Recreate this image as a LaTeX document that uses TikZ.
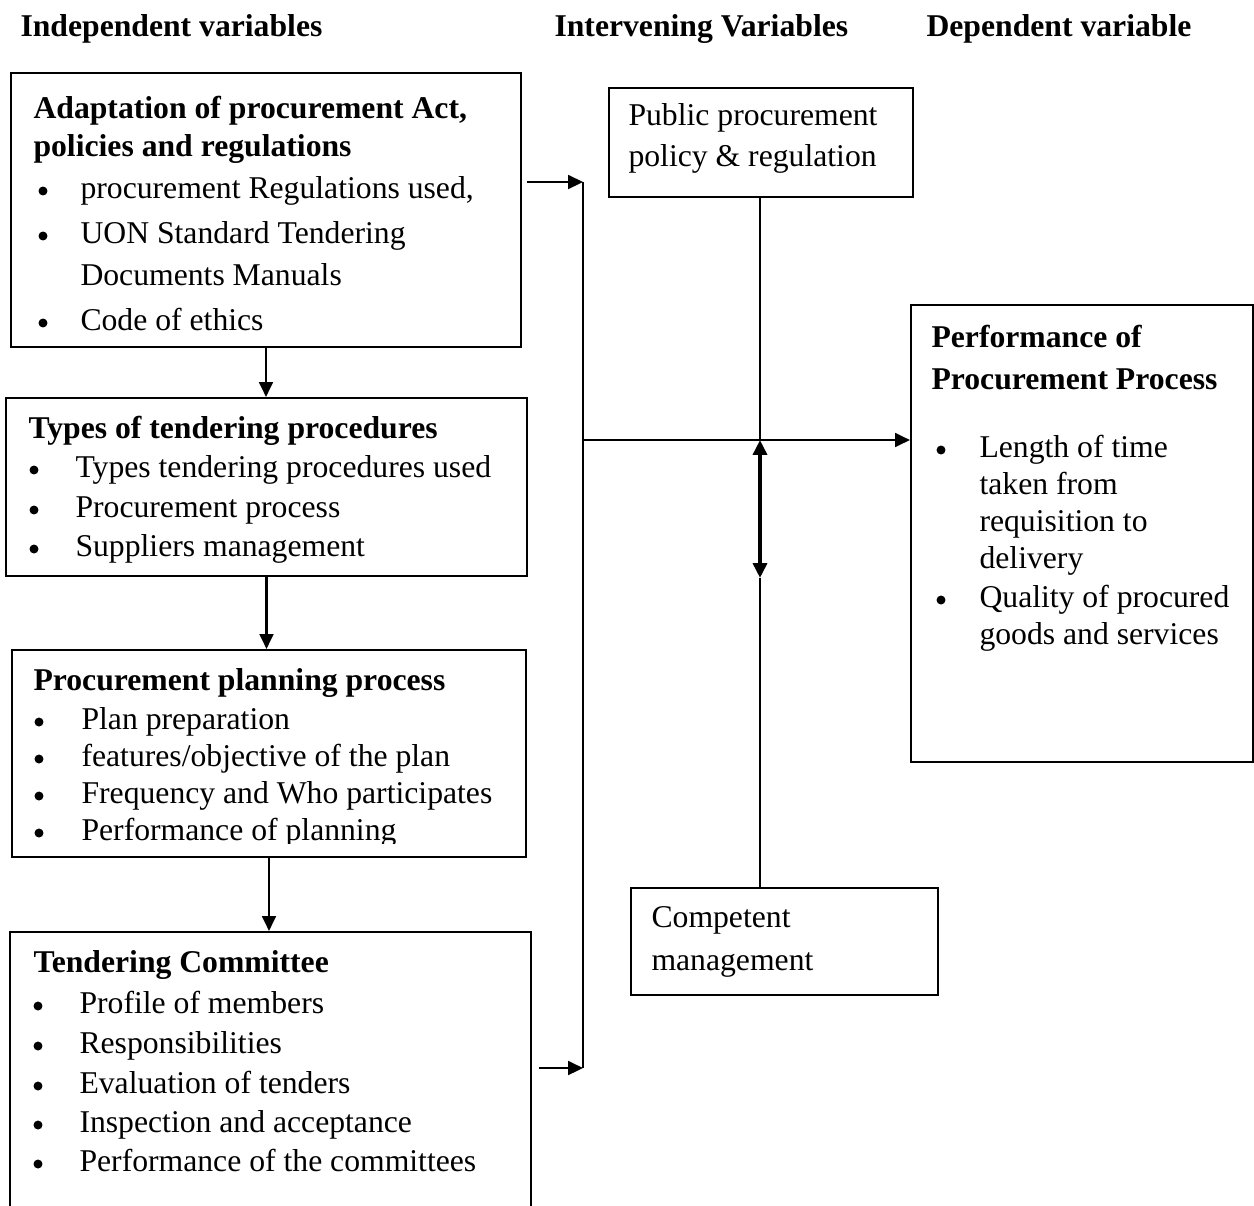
\documentclass[tikz,border=0pt]{standalone}
\usepackage{fontspec}
\setmainfont{Liberation Serif}
\usetikzlibrary{fit,arrows.meta}
\begin{document}
\begin{tikzpicture}[x=0.3788pt,y=-0.3788pt,
  box/.style={draw, line width=0.8pt, inner sep=0pt},
  txt/.style={anchor=base west, inner sep=0pt, font=\fontsize{12}{14}\selectfont},
  hd/.style={anchor=base west, inner sep=0pt, font=\fontsize{12}{14}\selectfont\bfseries},
  bul/.style={circle, fill, inner sep=0pt, minimum size=3.4pt},
  conn/.style={line width=0.9pt},
  arr/.style={line width=0.9pt, -{Triangle[length=5.6pt,width=5.2pt]}},
  dbl/.style={line width=1.6pt, {Triangle[length=5.6pt,width=5.2pt]}-{Triangle[length=5.6pt,width=5.2pt]}}]
\useasboundingbox (0,0) rectangle (1254,1205);

% headers
\node[hd] (h1) at (20,36) {Independent variables};
\node[hd] (h2) at (554,36) {Intervening Variables};
\node[hd] (h3) at (926,36) {Dependent variable};

% boxes
\node[box, fit={(11,73) (521,347)}] (b1) {};
\node[box, fit={(6,398) (527,576)}] (b2) {};
\node[box, fit={(12,650) (526,857)}] (b3) {};
\node[box, fit={(10,932) (531,1230)}] (b4) {};
\node[box, fit={(609,88) (913,197)}] (pub) {};
\node[box, fit={(631,888) (938,995)}] (comp) {};
\node[box, fit={(911,305) (1253,762)}] (perf) {};

% box 1
\node[hd] (a1) at (33,118) {Adaptation of procurement Act,};
\node[hd] (a2) at (33,156) {policies and regulations};
\node[bul] (ab1) at (43,191) {};
\node[txt] (a3) at (80,198) {procurement Regulations used,};
\node[bul] (ab2) at (43,236) {};
\node[txt] (a4) at (80,243) {UON Standard Tendering};
\node[txt] (a5) at (80,285) {Documents Manuals};
\node[bul] (ab3) at (43,323) {};
\node[txt] (a6) at (80,330) {Code of ethics};

% box 2
\node[hd] (c1) at (28,438) {Types of tendering procedures};
\node[bul] (cb1) at (34,470) {};
\node[txt] (c2) at (75,477) {Types tendering procedures used};
\node[bul] (cb2) at (34,510) {};
\node[txt] (c3) at (75,517) {Procurement process};
\node[bul] (cb3) at (34,549) {};
\node[txt] (c4) at (75,556) {Suppliers management};

% box 3
\node[hd] (d1) at (33,690) {Procurement planning process};
\node[bul] (db1) at (39,722) {};
\node[txt] (d2) at (81,729) {Plan preparation};
\node[bul] (db2) at (39,759) {};
\node[txt] (d3) at (81,766) {features/objective of the plan};
\node[bul] (db3) at (39,796) {};
\node[txt] (d4) at (81,803) {Frequency and Who participates};
\node[bul] (db4) at (39,833) {};
\begin{scope}
\clip (0,650) rectangle (600,843);
\node[txt] (d5) at (81,840) {Performance of planning};
\end{scope}

% box 4
\node[hd] (e1) at (33,972) {Tendering Committee};
\node[bul] (eb1) at (38,1006) {};
\node[txt] (e2) at (79,1013) {Profile of members};
\node[bul] (eb2) at (38,1046) {};
\node[txt] (e3) at (79,1053) {Responsibilities};
\node[bul] (eb3) at (38,1086) {};
\node[txt] (e4) at (79,1093) {Evaluation of tenders};
\node[bul] (eb4) at (38,1125) {};
\node[txt] (e5) at (79,1132) {Inspection and acceptance};
\node[bul] (eb5) at (38,1164) {};
\node[txt] (e6) at (79,1171) {Performance of the committees};

% public box
\node[txt] (p1) at (628,125) {Public procurement};
\node[txt] (p2) at (628,166) {policy \& regulation};

% competent
\node[txt] (m1) at (651,927) {Competent};
\node[txt] (m2) at (651,970) {management};

% performance
\node[hd] (f1) at (931,347) {Performance of};
\node[hd] (f2) at (931,389) {Procurement Process};
\node[bul] (fb1) at (941,450) {};
\node[txt] (f3) at (979,457) {Length of time};
\node[txt] (f4) at (979,494) {taken from};
\node[txt] (f5) at (979,531) {requisition to};
\node[txt] (f6) at (979,568) {delivery};
\node[bul] (fb2) at (941,600) {};
\node[txt] (f7) at (979,607) {Quality of procured};
\node[txt] (f8) at (979,644) {goods and services};

% connectors
\coordinate (s1) at (527,182);
\coordinate (j1) at (583,182);
\coordinate (s4) at (539,1068);
\coordinate (j4) at (583,1068);
\coordinate (hub) at (583,440);
\coordinate (cross) at (760,440);
\coordinate (dn) at (760,578);

\draw[arr] (b1.south) -- (b1.south |- b2.north);
\draw[arr] (b2.south) -- (b2.south |- b3.north);
\draw[arr] (b3.south) -- (b3.south |- b4.north);

\draw[arr] (s1) -- (j1);
\draw[arr] (s4) -- (j4);
\draw[conn] (j1) -- (j4);
\draw[arr] (hub) -- (hub -| perf.west);
\draw[conn] (cross |- pub.south) -- (cross);
\draw[dbl] (cross) -- (dn);
\draw[conn] (dn) -- (dn |- comp.north);
\end{tikzpicture}
\end{document}
